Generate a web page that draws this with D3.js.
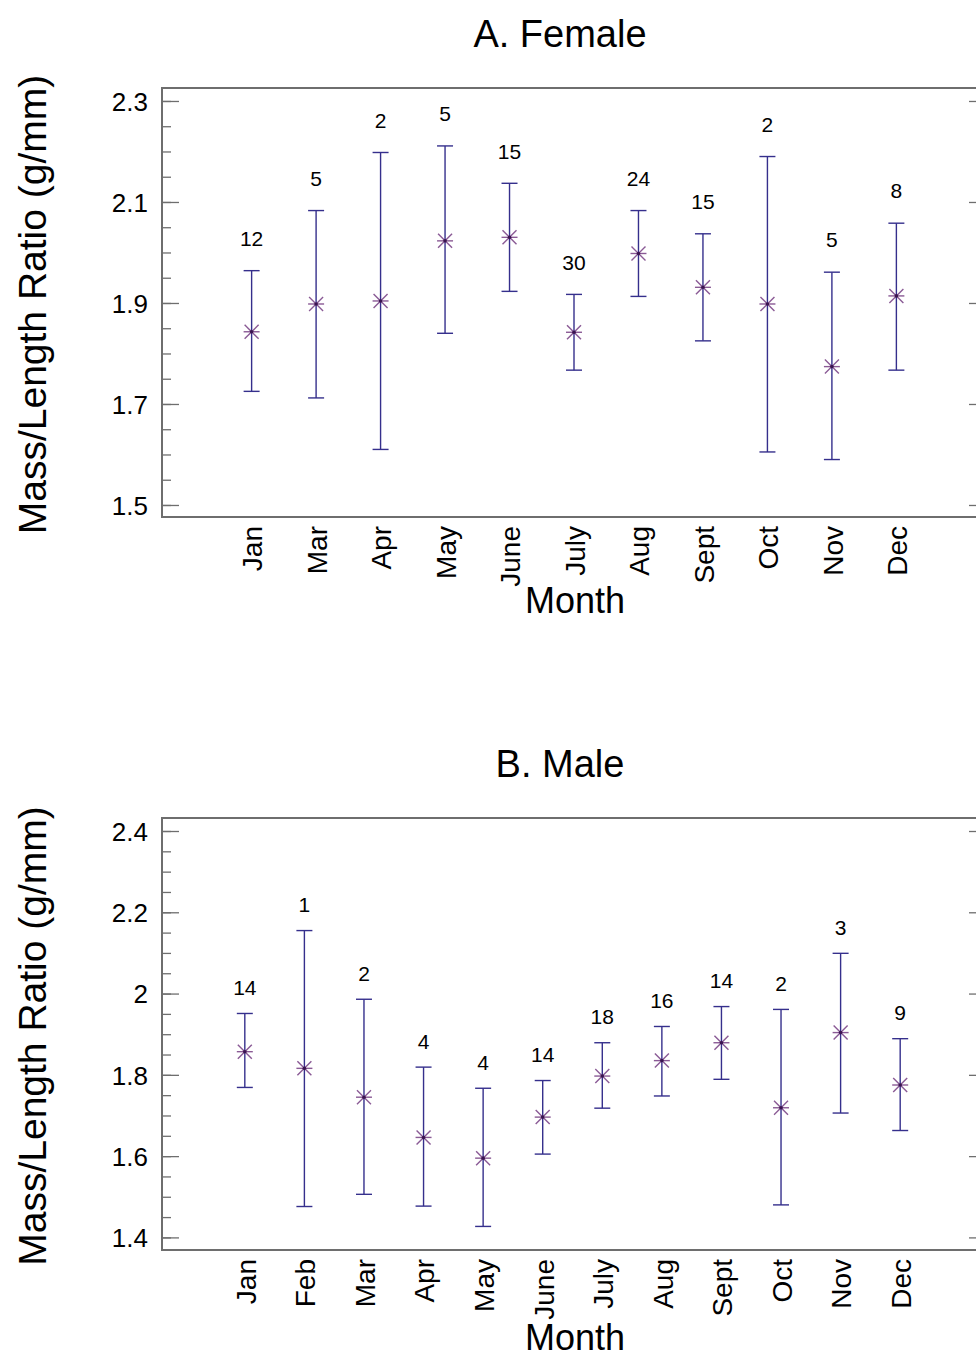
<!DOCTYPE html>
<html>
<head>
<meta charset="utf-8">
<script src="https://cdn.jsdelivr.net/npm/d3@7/dist/d3.min.js"></script>
<style>
  body { margin: 0; background: #fff; }
  text { font-family: Arial, "Liberation Sans", sans-serif; fill: #000; }
</style>
</head>
<body>
<svg width="976" height="1358"></svg>
<script>
// female panel
const femaleMonths = ["Jan", "Mar", "Apr", "May", "June", "July", "Aug", "Sept", "Oct", "Nov", "Dec"];
const femaleMean = [1.843, 1.898, 1.904, 2.023, 2.030, 1.842, 1.998, 1.931, 1.898, 1.774, 1.914];
const femaleHigh = [1.964, 2.083, 2.198, 2.211, 2.137, 1.917, 2.083, 2.037, 2.190, 1.961, 2.058];
const femaleLow = [1.725, 1.712, 1.610, 1.840, 1.923, 1.767, 1.913, 1.825, 1.605, 1.590, 1.767];
const femaleN = [12, 5, 2, 5, 15, 30, 24, 15, 2, 5, 8];
const femaleTicks = [1.5, 1.7, 1.9, 2.1, 2.3];

// male panel
const maleMonths = ["Jan", "Feb", "Mar", "Apr", "May", "June", "July", "Aug", "Sept", "Oct", "Nov", "Dec"];
const maleMean = [1.857, 1.816, 1.745, 1.646, 1.595, 1.696, 1.797, 1.835, 1.879, 1.719, 1.904, 1.775];
const maleHigh = [1.951, 2.155, 1.986, 1.819, 1.767, 1.786, 1.879, 1.919, 1.968, 1.961, 2.099, 1.889];
const maleLow = [1.769, 1.476, 1.506, 1.477, 1.427, 1.605, 1.718, 1.748, 1.789, 1.480, 1.706, 1.663];
const maleN = [14, 1, 2, 4, 4, 14, 18, 16, 14, 2, 3, 9];
const maleTicks = [1.4, 1.6, 1.8, 2, 2.2, 2.4];

const svg = d3.select("svg");
const frameColor = "#6e6e6e";
const barColor = "#352f8c";
const markColor = "#8a5a95";

function drawPanel(p) {
  const g = svg.append("g");
  const left = 162, right = 986;

  const x = d3.scalePoint().domain(p.months).range([left, p.xRight]).padding(p.pad);
  const y = d3.scaleLinear().domain(p.domain).range([p.bottom, p.top]);

  const rows = p.months.map((m, i) => ({
    m: m, mean: p.mean[i], hi: p.high[i], lo: p.low[i], n: p.n[i]
  }));

  // minor ticks every 0.05
  const minor = d3.range(Math.ceil(p.domain[0] * 20), Math.floor(p.domain[1] * 20) + 1)
    .map(k => k / 20);

  g.append("g")
    .attr("transform", `translate(${left},0)`)
    .call(d3.axisLeft(y).tickValues(minor).tickSize(-9).tickFormat(""))
    .call(a => a.select(".domain").remove());
  g.append("g")
    .attr("transform", `translate(${right},0)`)
    .call(d3.axisRight(y).tickValues(minor).tickSize(-9).tickFormat(""))
    .call(a => a.select(".domain").remove());

  const yAxis = g.append("g")
    .attr("transform", `translate(${left},0)`)
    .call(d3.axisLeft(y).tickValues(p.ticks).tickSize(-17).tickPadding(14).tickFormat(d3.format("")))
    .call(a => a.select(".domain").remove());
  yAxis.selectAll("text")
    .style("font-size", "26px")
    .attr("dy", "0.36em");
  g.append("g")
    .attr("transform", `translate(${right},0)`)
    .call(d3.axisRight(y).tickValues(p.ticks).tickSize(-17).tickFormat(""))
    .call(a => a.select(".domain").remove());

  g.selectAll(".tick line").attr("stroke", frameColor).attr("stroke-width", 1.3);

  // frame
  g.append("rect")
    .attr("x", left).attr("y", p.top)
    .attr("width", right - left).attr("height", p.bottom - p.top)
    .attr("fill", "none").attr("stroke", frameColor).attr("stroke-width", 2);

  // month labels
  const xAxis = g.append("g")
    .attr("transform", `translate(0,${p.bottom})`)
    .call(d3.axisBottom(x).tickSize(0))
    .call(a => a.select(".domain").remove());
  xAxis.selectAll("text")
    .attr("transform", "rotate(-90)")
    .attr("text-anchor", "end")
    .attr("x", -9)
    .attr("y", 0)
    .attr("dy", "0.37em")
    .style("font-size", "28px");

  // error bars
  const bars = g.append("g").selectAll("g").data(rows).join("g");
  bars.append("line")
    .attr("x1", d => x(d.m)).attr("x2", d => x(d.m))
    .attr("y1", d => y(d.lo)).attr("y2", d => y(d.hi))
    .attr("stroke", barColor).attr("stroke-width", 1.4);
  bars.append("line")
    .attr("x1", d => x(d.m) - 8).attr("x2", d => x(d.m) + 8)
    .attr("y1", d => y(d.hi)).attr("y2", d => y(d.hi))
    .attr("stroke", barColor).attr("stroke-width", 1.4);
  bars.append("line")
    .attr("x1", d => x(d.m) - 8).attr("x2", d => x(d.m) + 8)
    .attr("y1", d => y(d.lo)).attr("y2", d => y(d.lo))
    .attr("stroke", barColor).attr("stroke-width", 1.4);

  // asterisk markers
  const star = bars.append("g")
    .attr("transform", d => `translate(${x(d.m)},${y(d.mean)})`);
  [[-8, 0, 8, 0], [-7, -7, 7, 7], [-7, 7, 7, -7]].forEach(s => {
    star.append("line")
      .attr("x1", s[0]).attr("y1", s[1]).attr("x2", s[2]).attr("y2", s[3])
      .attr("stroke", markColor).attr("stroke-width", 1.4);
  });
  star.append("circle").attr("r", 1.8).attr("fill", "#3b1450");

  // sample sizes
  bars.append("text")
    .attr("x", d => x(d.m))
    .attr("y", d => y(d.hi + 0.064))
    .attr("dy", "0.36em")
    .attr("text-anchor", "middle")
    .style("font-size", "21px")
    .text(d => d.n);

  // titles
  g.append("text")
    .attr("x", 560).attr("y", p.titleY)
    .attr("text-anchor", "middle")
    .style("font-size", "38px")
    .text(p.title);
  g.append("text")
    .attr("x", 575).attr("y", p.monthY)
    .attr("text-anchor", "middle")
    .style("font-size", "36px")
    .text("Month");
  g.append("text")
    .attr("transform", `translate(46,${(p.top + p.bottom) / 2 + 2}) rotate(-90)`)
    .attr("text-anchor", "middle")
    .style("font-size", "39px")
    .text("Mass/Length Ratio (g/mm)");
}

drawPanel({
  title: "A. Female", titleY: 47, monthY: 613,
  months: femaleMonths, mean: femaleMean, high: femaleHigh, low: femaleLow, n: femaleN,
  ticks: femaleTicks, domain: [1.4762, 2.3257], top: 88, bottom: 517,
  xRight: 986, pad: 1.39
});

drawPanel({
  title: "B. Male", titleY: 777, monthY: 1350,
  months: maleMonths, mean: maleMean, high: maleHigh, low: maleLow, n: maleN,
  ticks: maleTicks, domain: [1.369, 2.432], top: 818, bottom: 1250,
  xRight: 983, pad: 1.39
});
</script>
</body>
</html>
